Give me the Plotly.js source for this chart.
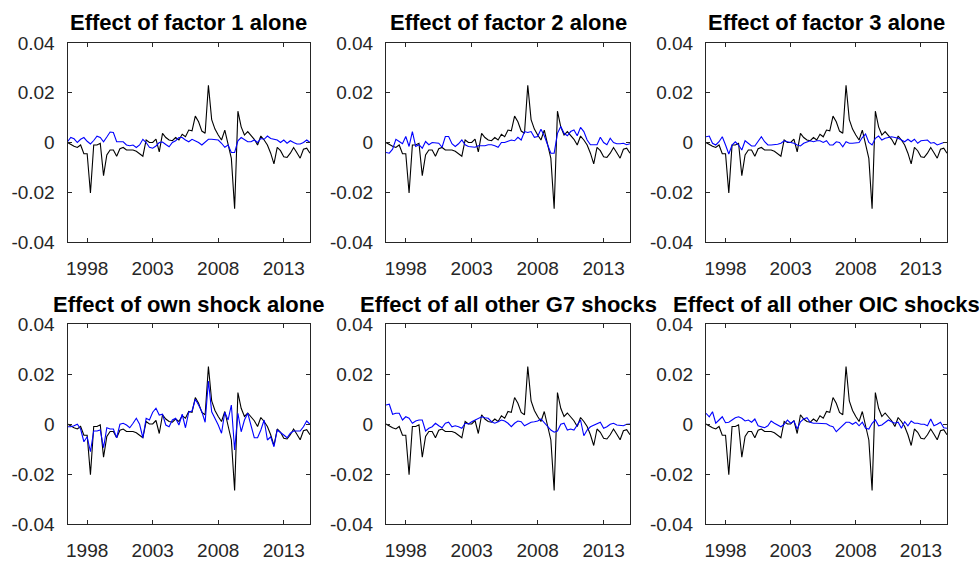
<!DOCTYPE html>
<html>
<head>
<meta charset="utf-8">
<script src="https://cdn.plot.ly/plotly-3.0.1.min.js"></script>
<style>
html,body{margin:0;padding:0;background:#fff;}
#chart{width:979px;height:561px;}
</style>
</head>
<body>
<div id="chart"></div>
<script>
// ---- data ----
const quarters = [1996.5,1996.75,1997,1997.25,1997.5,1997.75,1998,1998.25,1998.5,1998.75,1999,1999.25,1999.5,1999.75,2000,2000.25,2000.5,2000.75,2001,2001.25,2001.5,2001.75,2002,2002.25,2002.5,2002.75,2003,2003.25,2003.5,2003.75,2004,2004.25,2004.5,2004.75,2005,2005.25,2005.5,2005.75,2006,2006.25,2006.5,2006.75,2007,2007.25,2007.5,2007.75,2008,2008.25,2008.5,2008.75,2009,2009.25,2009.5,2009.75,2010,2010.25,2010.5,2010.75,2011,2011.25,2011.5,2011.75,2012,2012.25,2012.5,2012.75,2013,2013.25,2013.5,2013.75,2014,2014.25,2014.5,2014.75,2015];

const totalSeries = [0.000,-0.0008,-0.0015,-0.002,-0.001,-0.0045,-0.0045,-0.0203,-0.001,-0.001,
 -0.0003,-0.0133,-0.005,-0.003,-0.003,-0.0055,-0.0025,-0.002,-0.003,-0.003,
 -0.003,-0.0035,-0.0045,-0.0055,0.001,0,0,0.0014,-0.0038,0.0037,
 0.002,0.001,0.0007,0.002,0.001,0.0033,0.0023,0.005,0.0047,0.0106,
 0.0083,0.0046,0.0037,0.023,0.0092,0.0054,0.003,0.001,0.005,-0.001,
 -0.0064,-0.0266,0.0126,0.0063,0.003,0.0044,0.003,0.0013,-0.001,0.0026,
 0.001,-0.001,-0.0043,-0.0086,-0.002,-0.0033,-0.0057,-0.006,-0.0043,-0.002,
 -0.0041,-0.0063,-0.0027,-0.0023,-0.0043];

const factor1 = [0.0003,0.002,0.0015,0,0.0013,0.002,0.0005,-0.0006,0.0008,0.0025,
 0.002,0.0003,0.0022,0.0042,0.004,0.0003,0.0003,0.0003,-0.001,-0.0013,
 -0.001,-0.002,-0.001,0.0013,0,-0.0019,-0.0023,-0.0014,0,0.0002,
 -0.0008,-0.0017,0,0.0007,0.002,0.002,0.001,0.0003,0.0013,0.0007,
 0,-0.001,0.0003,0.0013,0.0013,0.001,0.001,-0.0003,-0.0019,-0.001,
 -0.004,-0.004,0.0007,0.002,0.0013,0.0003,0.0003,0.001,0,0.0016,
 0.0013,0.0026,0.0016,0.0013,0.001,0,0.001,-0.0003,0.0007,0,
 -0.0006,-0.0006,0,0.001,0];

const factor2 = [-0.004,-0.0043,-0.0027,0.0013,0.0004,-0.0005,0.0024,-0.0016,0.0044,-0.0016,
 -0.0009,-0.0023,0.0004,-0.0009,0,0,-0.0003,-0.0019,0.0024,0.0024,
 -0.0005,-0.0016,-0.0005,0.001,-0.0009,-0.0016,-0.0019,-0.0019,-0.0013,-0.0013,
 -0.0013,-0.0009,-0.0009,-0.0013,-0.0019,0,0,0.0005,0.001,0.0007,
 0.0021,0.001,0.0044,0.004,0.0044,0.0021,0.0024,0.0053,0.0027,-0.0009,
 -0.0043,-0.0043,0.0037,0.0064,0.0037,0.0027,0.0044,0.005,0.0027,0.0061,
 0.0044,0.001,-0.0009,-0.0009,-0.0009,0.0021,0,-0.0009,0.0017,0,
 -0.0005,-0.0005,-0.0003,-0.0009,-0.0005];

const factor3 = [0.0023,0.0026,-0.0003,-0.001,0.0003,0.0023,-0.001,-0.0046,-0.001,0.0003,
 -0.001,-0.003,0.0007,-0.0003,-0.0014,-0.0014,0.0003,0.0023,0.0003,-0.001,
 -0.001,-0.001,-0.0007,-0.0003,0.0007,0.0003,0,-0.0003,-0.001,-0.0014,
 -0.0003,0.0003,0.0007,0.0003,0.0007,0.0007,0,0.0007,-0.001,-0.001,
 0.0003,0,-0.0017,0.0003,-0.0003,-0.0003,0,0,0.002,0.0034,
 0,-0.001,0.0017,0.0026,0.001,0.0017,0.002,0.0023,0.002,0.0017,
 0.001,0.0003,0.0013,0.0003,0.0013,-0.0003,0.0007,0.0007,0.001,-0.0003,
 0,-0.001,-0.0006,0,0];

const ownShock = [-0.0011,-0.0011,-0.0007,-0.0001,-0.002,-0.0071,-0.0051,-0.0111,-0.0028,-0.0028,
 -0.0024,-0.0095,-0.0015,-0.002,-0.002,-0.0055,-0.0001,0.0003,-0.0004,-0.0015,
 0.0003,0.0023,-0.0001,-0.0055,0.0023,0.0016,0.0047,0.0063,0.0036,0.0039,
 -0.0004,-0.0011,0.0016,0.0023,-0.0004,0.0039,-0.0015,0.0047,0.0052,0.0099,
 0.0076,0.0049,0.0007,0.0172,0.0049,0.0023,-0.0004,-0.0037,0.0047,0.0016,
 0.0076,-0.0104,0.0043,-0.0031,0.0016,0.0043,-0.0004,-0.0055,-0.0055,-0.0024,
 0.0016,-0.0064,-0.0051,-0.0091,-0.0024,-0.0033,-0.0044,-0.0055,-0.0037,-0.0028,
 -0.0028,-0.0028,-0.0011,0.0012,-0.0001];

const otherG7 = [0.0076,0.0079,0.0039,0.0043,0.0043,0.0016,0.0029,0.0023,0.0003,0.0012,
 0.0016,0.0016,-0.0028,-0.0017,-0.0011,0.0003,-0.0007,-0.0015,0.0003,0.0007,
 -0.0011,-0.0007,-0.0011,-0.0017,0.0003,0,0.0009,0.0016,0.0023,0.0029,
 0.0025,0.0023,0.0009,0.0003,0.0009,0.0016,0.0012,0.0003,-0.0011,0.0003,
 0.0012,0.0009,-0.0007,-0.0001,0.0007,0.0009,0.0012,0.002,0.0005,-0.0007,
 -0.0024,-0.0033,-0.0028,-0.0001,0.0003,-0.0024,-0.002,-0.0024,-0.0004,0.0016,
 -0.0047,-0.0024,-0.0011,-0.0004,0.0003,0.0007,-0.0017,-0.0011,-0.0001,0.0003,
 -0.0004,-0.0004,-0.0007,-0.0001,0];

const otherOIC = [0.0043,0.0029,0.0049,0.0003,0.0016,0.0029,0.0005,0.0007,0.0016,0.0025,
 0.0029,0.0023,0.0012,0.0016,0.0007,0.002,-0.0007,-0.0011,-0.0015,-0.0007,
 0.0012,0.0003,-0.0004,-0.0011,-0.0001,0.0016,0.0003,0.0012,-0.002,0.0009,
 0.002,0.0025,0.0007,0.0003,0.0003,0.0003,0.0001,0.0001,-0.0007,-0.0011,
 -0.0031,-0.0017,-0.0004,0.0007,0.0007,-0.0001,0.0007,-0.0007,0.0007,-0.0017,
 -0.002,0.0003,0.0016,-0.0007,-0.0004,0.0007,0.0016,0.0009,0.0003,0.0007,
 -0.0017,0.0009,-0.0007,0.0012,0.0003,0.0003,-0.0001,-0.0001,-0.0007,0.002,
 -0.0007,-0.0001,0.0007,-0.0015,-0.0017];

const panelTitles = ['Effect of factor 1 alone','Effect of factor 2 alone','Effect of factor 3 alone',
  'Effect of own shock alone','Effect of all other G7 shocks','Effect of all other OIC shocks'];
const xTickVals = [1998, 2003, 2008, 2013];
const xTickText = ['1998', '2003', '2008', '2013'];
const yTickVals = [-0.04, -0.02, 0, 0.02, 0.04];
const yTickText = ['-0.04', '-0.02', '0', '0.02', '0.04'];
const blueSeries = [factor1, factor2, factor3, ownShock, otherG7, otherOIC];

// ---- layout geometry (pixels) ----
const W = 979, H = 561;
const colPx = [[67.5, 310], [386, 630], [706, 947]];
const rowPx = [[43, 242], [324, 524]];
const titleMidPx = [22.5, 304.5];
const FONT = '"Liberation Sans", Arial, Helvetica, sans-serif';
const AX = '#262626';

const data = [];
const layout = {
  width: W, height: H,
  margin: {l: 0, r: 0, t: 0, b: 0},
  paper_bgcolor: '#ffffff', plot_bgcolor: '#ffffff',
  showlegend: false,
  font: {family: FONT, size: 19, color: AX},
  annotations: []
};

for (let k = 0; k < 6; k++) {
  const r = Math.floor(k / 3), c = k % 3;
  const n = k + 1;
  const xa = 'x' + (n === 1 ? '' : n), ya = 'y' + (n === 1 ? '' : n);
  const xKey = 'xaxis' + (n === 1 ? '' : n), yKey = 'yaxis' + (n === 1 ? '' : n);
  data.push({x: quarters, y: totalSeries, xaxis: xa, yaxis: ya, type: 'scatter', mode: 'lines',
    line: {color: '#000000', width: 1.1}, hoverinfo: 'skip'});
  data.push({x: quarters, y: blueSeries[k], xaxis: xa, yaxis: ya, type: 'scatter', mode: 'lines',
    line: {color: '#0000ff', width: 1.1}, hoverinfo: 'skip'});
  layout[xKey] = {
    domain: [colPx[c][0] / W, colPx[c][1] / W], anchor: ya,
    range: [1996.5, 2015], tickmode: 'array', tickvals: xTickVals, ticktext: xTickText,
    ticks: 'inside', ticklen: 4, tickwidth: 1, tickcolor: AX,
    showline: true, linecolor: AX, linewidth: 1, mirror: 'ticks',
    showgrid: false, zeroline: false, fixedrange: true,
    tickfont: {family: FONT, size: 19, color: AX}, ticklabelstandoff: 9
  };
  layout[yKey] = {
    domain: [1 - rowPx[r][1] / H, 1 - rowPx[r][0] / H], anchor: xa,
    range: [-0.04, 0.04], tickmode: 'array', tickvals: yTickVals, ticktext: yTickText,
    ticks: 'inside', ticklen: 4, tickwidth: 1, tickcolor: AX,
    showline: true, linecolor: AX, linewidth: 1, mirror: 'ticks',
    showgrid: false, zeroline: false, fixedrange: true,
    tickfont: {family: FONT, size: 19, color: AX}, ticklabelstandoff: 8
  };
  layout.annotations.push({
    text: '<b>' + panelTitles[k] + '</b>', xref: 'paper', yref: 'paper',
    x: (colPx[c][0] + colPx[c][1]) / 2 / W, y: 1 - titleMidPx[r] / H,
    xanchor: 'center', yanchor: 'middle', showarrow: false,
    font: {family: FONT, size: 22, color: '#000000'}
  });
}

Plotly.newPlot('chart', data, layout, {staticPlot: true, displayModeBar: false});
</script>
</body>
</html>
